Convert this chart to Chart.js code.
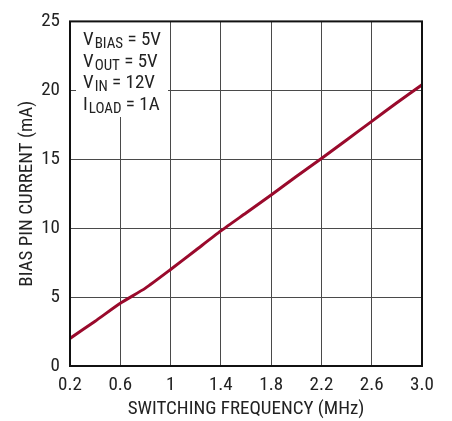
<!DOCTYPE html>
<html>
<head>
<meta charset="utf-8">
<script src="https://cdn.jsdelivr.net/npm/chart.js@4/dist/chart.umd.min.js"></script>
<style>
  html, body { margin: 0; padding: 0; background: #fff; }
  #wrap { width: 452px; height: 421px; }
</style>
</head>
<body>
<div id="wrap"><canvas id="lineChart" width="452" height="421"></canvas></div>
<script>
// data
const freqMHz = [0.2, 0.4, 0.6, 0.8, 1.0, 1.2, 1.4, 1.6, 1.8, 2.0, 2.2, 2.4, 2.6, 2.8, 3.0];
const biasCurrent = [2.0, 3.25, 4.55, 5.65, 7.0, 8.4, 9.8, 11.1, 12.4, 13.75, 15.05, 16.4, 17.75, 19.1, 20.4];
const xTicks = [0.2, 0.6, 1.0, 1.4, 1.8, 2.2, 2.6, 3.0];
const xTickLabels = ['0.2', '0.6', '1', '1.4', '1.8', '2.2', '2.6', '3.0'];
const yTicks = [0, 5, 10, 15, 20, 25];

// condition notes: [main, subscript, rest]
const notes = [
  ['V', 'BIAS', ' = 5V'],
  ['V', 'OUT', ' = 5V'],
  ['V', 'IN', ' = 12V'],
  ['I', 'LOAD', ' = 1A']
];

const FONT = '"Liberation Sans Narrow", "Roboto Condensed", "Liberation Sans", sans-serif';

const notesPlugin = {
  id: 'notes',
  beforeDatasetsDraw(chart) {
    const c = chart.ctx;
    c.save();
    c.fillStyle = '#fff';
    c.fillRect(76, 16, 92, 101);
    c.fillStyle = '#222';
    c.textBaseline = 'alphabetic';
    let y = 45;
    notes.forEach(n => {
      let x = 83;
      c.font = '19px ' + FONT;
      c.fillText(n[0], x, y);
      x += c.measureText(n[0]).width + 1;
      c.font = '15px ' + FONT;
      c.fillText(n[1], x, y + 3);
      x += c.measureText(n[1]).width;
      c.font = '19px ' + FONT;
      c.fillText(n[2], x, y);
      y += 21.5;
    });
    c.restore();
  },
  afterDraw(chart) {
    const a = chart.chartArea;
    const c = chart.ctx;
    c.save();
    c.strokeStyle = '#111';
    c.lineWidth = 2;
    c.strokeRect(a.left, a.top, a.right - a.left, a.bottom - a.top);
    c.restore();
  }
};

new Chart(document.getElementById('lineChart'), {
  type: 'line',
  data: {
    datasets: [{
      data: freqMHz.map((f, i) => ({ x: f, y: biasCurrent[i] })),
      borderColor: '#9a0a2c',
      borderWidth: 3,
      pointRadius: 0,
      tension: 0.2,
      fill: false
    }]
  },
  options: {
    responsive: false,
    animation: false,
    layout: { padding: { top: 15, right: 30, left: 0, bottom: 0 } },
    plugins: { legend: { display: false }, tooltip: { enabled: false } },
    scales: {
      x: {
        type: 'linear',
        min: 0.2,
        max: 3.0,
        afterBuildTicks: s => { s.ticks = xTicks.map(v => ({ value: v })); },
        afterFit: s => { s.height = 55; },
        grid: { color: '#4a4a4a', lineWidth: 1, drawTicks: false },
        border: { display: false },
        ticks: {
          padding: 8,
          color: '#222',
          font: { family: FONT, size: 19 },
          maxRotation: 0,
          autoSkip: false,
          callback: (v, i) => xTickLabels[i]
        },
        title: {
          display: true,
          text: 'SWITCHING FREQUENCY (MHz)',
          color: '#222',
          font: { family: FONT, size: 19 },
          padding: { top: 0, bottom: 0 }
        }
      },
      y: {
        min: 0,
        max: 25,
        afterBuildTicks: s => { s.ticks = yTicks.map(v => ({ value: v })); },
        afterFit: s => { s.width = 70; },
        grid: { color: '#4a4a4a', lineWidth: 1, drawTicks: false },
        border: { display: false },
        ticks: {
          padding: 10,
          color: '#222',
          font: { family: FONT, size: 19 }
        },
        title: {
          display: true,
          text: 'BIAS PIN CURRENT (mA)',
          color: '#222',
          font: { family: FONT, size: 19 },
          padding: { top: 15.5, bottom: 0 }
        }
      }
    }
  },
  plugins: [notesPlugin]
});
</script>
</body>
</html>
